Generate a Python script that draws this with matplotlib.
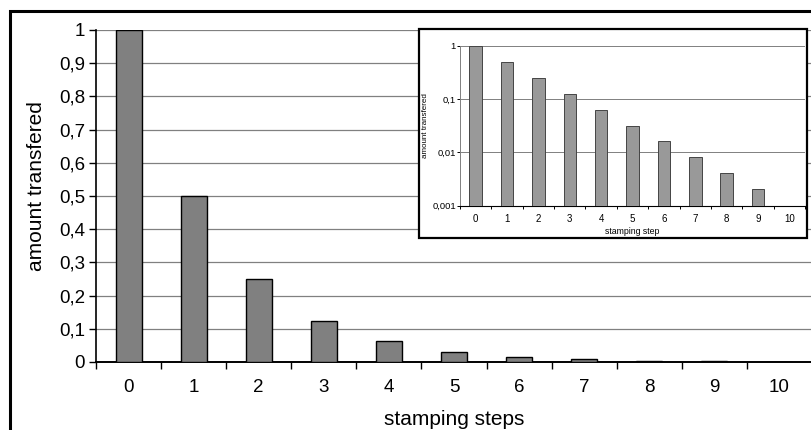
import numpy as np
import matplotlib.pyplot as plt
from matplotlib.patches import Rectangle

plt.rcParams['font.family'] = ['Liberation Sans', 'DejaVu Sans']

# stamping step and amount transferred (halving each step)
steps = list(range(11))
amount = [1.0, 0.5, 0.25, 0.125, 0.0625, 0.031, 0.016, 0.008, 0.004, 0.002, 0.001]
main_yticks = [0, 0.1, 0.2, 0.3, 0.4, 0.5, 0.6, 0.7, 0.8, 0.9, 1]
main_ylabels = ["0", "0,1", "0,2", "0,3", "0,4", "0,5", "0,6", "0,7", "0,8", "0,9", "1"]
inset_yticks = [0.001, 0.01, 0.1, 1]
inset_ylabels = ["0,001", "0,01", "0,1", "1"]

W, H = 811, 430
fig = plt.figure(figsize=(W / 100, H / 100), dpi=100)


def fx(px):
    return px / W


def fy(py):
    return 1 - py / H


# outer frame (left/top visible, right/bottom off the image)
fig.patches.append(Rectangle((fx(10), -0.2), 1.2, fy(11) + 0.2, transform=fig.transFigure,
                             fill=False, edgecolor="black", linewidth=2.2, zorder=0))

# main chart
ax = fig.add_axes([fx(96), fy(362), fx(812) - fx(96), fy(30) - fy(362)])
ax.bar(steps, amount, width=0.4, color="#808080", edgecolor="black", linewidth=1.0, zorder=3)
ax.set_xlim(-0.5, 10.5)
ax.set_ylim(0, 1)
ax.set_yticks(main_yticks)
ax.set_yticklabels(main_ylabels)
ax.set_xticks(steps)
ax.set_xticks(np.arange(-0.5, 11, 1), minor=True)
ax.tick_params(axis="x", which="major", length=0, pad=12, labelsize=13.5)
ax.tick_params(axis="x", which="minor", length=5, width=1, direction="out")
ax.tick_params(axis="y", length=5, width=1, direction="out", labelsize=13.5, pad=3)
ax.yaxis.grid(True, color="#808080", linewidth=0.9)
ax.set_axisbelow(True)
for s in ("top", "right"):
    ax.spines[s].set_visible(False)
ax.spines["left"].set_linewidth(1.2)
ax.spines["bottom"].set_linewidth(1.4)
ax.set_xlabel("stamping steps", fontsize=15, labelpad=10)
ax.set_ylabel("amount transfered", fontsize=15)
ax.yaxis.set_label_coords(-0.07, 0.53)

# inset frame
fig.patches.append(Rectangle((fx(419), fy(237.5)), fx(807) - fx(419), fy(29) - fy(237.5),
                             transform=fig.transFigure, facecolor="white", edgecolor="black",
                             linewidth=1.6, zorder=2))

# inset chart, log scale
ins = fig.add_axes([fx(460), fy(205.5), fx(805) - fx(460), fy(45.7) - fy(205.5)], zorder=3)
ins.patch.set_alpha(0)
ins.bar(steps, amount, width=0.4, color="#999999", edgecolor="#444444", linewidth=0.7, zorder=3)
ins.set_yscale("log")
ins.set_xlim(-0.5, 10.5)
ins.set_ylim(0.001, 1)
ins.set_yticks(inset_yticks)
ins.set_yticklabels(inset_ylabels)
ins.yaxis.set_minor_locator(plt.NullLocator())
ins.set_xticks(steps)
ins.set_xticks(np.arange(-0.5, 11, 1), minor=True)
ins.tick_params(axis="x", which="major", length=0, pad=6, labelsize=7)
ins.tick_params(axis="x", which="minor", length=2, width=0.7, direction="out")
ins.tick_params(axis="y", which="major", length=2, width=0.7, direction="out", labelsize=6.8, pad=1)
ins.yaxis.grid(True, color="#808080", linewidth=0.7)
ins.set_axisbelow(True)
for s in ("top", "right"):
    ins.spines[s].set_visible(False)
ins.spines["left"].set_color("#808080")
ins.spines["left"].set_linewidth(0.7)
ins.spines["bottom"].set_linewidth(0.8)
ins.set_xlabel("stamping step", fontsize=6.3, labelpad=2)
ins.set_ylabel("amount transfered", fontsize=5.8, labelpad=2)

fig.savefig("out.png", dpi=100)
